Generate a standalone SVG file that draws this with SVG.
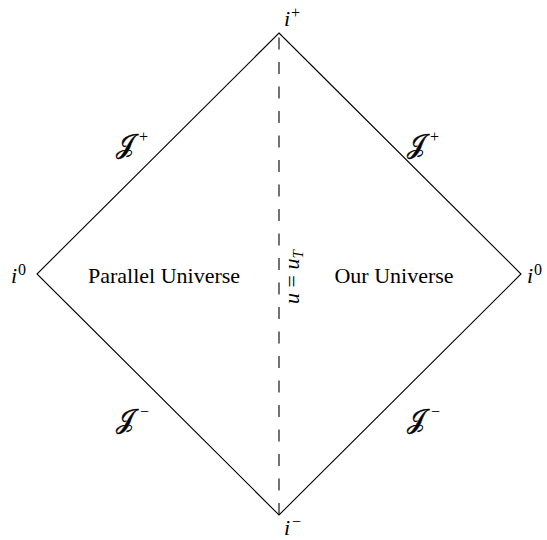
<svg xmlns="http://www.w3.org/2000/svg" width="547" height="540" viewBox="0 0 547 540">
<style>
.t{font-family:"Liberation Serif","DejaVu Serif",serif;fill:#000}
.m{font-family:"Liberation Serif","DejaVu Serif",serif;font-style:italic;font-size:22px;fill:#000}
.j{font-family:"Liberation Serif","DejaVu Serif",serif;font-size:27px;fill:#000;stroke:#000;stroke-width:0.4}
.s{font-family:"Liberation Serif","DejaVu Serif",serif;font-size:16px;fill:#000}
.ln{fill:none;stroke:#000;stroke-width:1.1}
</style>
<rect width="547" height="540" fill="#fff"/>
<g id="connectors">
<polygon class="ln" points="279,33 521,274 279,515 37,274"/>
<line class="ln" x1="279" y1="515" x2="279" y2="33" stroke-dasharray="12 12.5"/>
</g>
<g id="i-plus"><text class="m" x="284" y="26">i</text><text class="s" x="291" y="18">+</text></g>
<g id="i-minus"><text class="m" x="284" y="535">i</text><text class="s" x="292" y="527">−</text></g>
<g id="i0-left"><text class="m" x="11" y="283">i</text><text class="s" x="18" y="275">0</text></g>
<g id="i0-right"><text class="m" x="527" y="283">i</text><text class="s" x="534" y="275">0</text></g>
<g id="scri-plus-left"><text class="j" x="116" y="153">𝒥</text><text class="s" x="139" y="142">+</text></g>
<g id="scri-plus-right"><text class="j" x="407" y="153">𝒥</text><text class="s" x="430" y="142">+</text></g>
<g id="scri-minus-left"><text class="j" x="116" y="428">𝒥</text><text class="s" x="140" y="417">−</text></g>
<g id="scri-minus-right"><text class="j" x="407" y="428">𝒥</text><text class="s" x="431" y="417">−</text></g>
<g id="parallel-universe"><text class="t" x="164" y="283" font-size="22" text-anchor="middle">Parallel Universe</text></g>
<g id="our-universe"><text class="t" x="394" y="283" font-size="22" text-anchor="middle">Our Universe</text></g>
<g id="horizon-label"><text class="m" transform="translate(299,277) rotate(-90)" text-anchor="middle">u <tspan font-style="normal">=</tspan> u<tspan font-size="15" dy="4">T</tspan></text></g>
</svg>
